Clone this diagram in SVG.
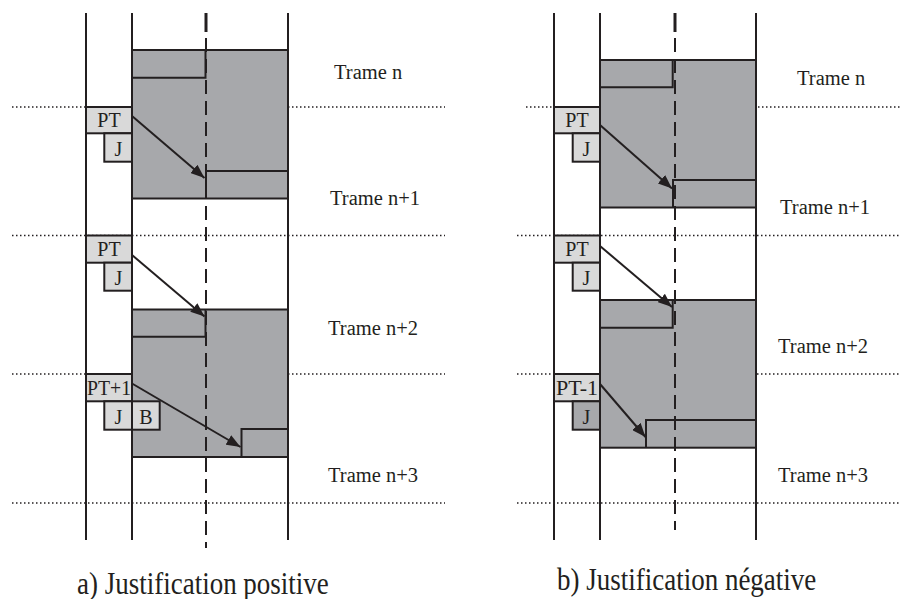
<svg xmlns="http://www.w3.org/2000/svg" width="900" height="599" viewBox="0 0 900 599">
<defs>
<marker id="ah" markerUnits="userSpaceOnUse" markerWidth="14" markerHeight="11" refX="14" refY="5.5" orient="auto">
<path d="M0,0 L14,5.5 L0,11 z" fill="#231f20"/>
</marker>
<style>
.v{stroke:#231f20;stroke-width:2;fill:none}
.dash{stroke:#231f20;stroke-width:2;stroke-dasharray:14 7;fill:none}
.dashtop{stroke:#231f20;stroke-width:3;fill:none}
.dot{stroke:#231f20;stroke-width:1.5;stroke-dasharray:1.5 2.5;fill:none}
.area{fill:#a7a8ab;stroke:#231f20;stroke-width:2}
.step{fill:none;stroke:#231f20;stroke-width:2}
.lt{fill:#d9d9d9;stroke:#231f20;stroke-width:2}
.dk{fill:#a7a8ab;stroke:#231f20;stroke-width:2}
.arr{stroke:#231f20;stroke-width:2;fill:none;marker-end:url(#ah)}
text{font-family:"Liberation Serif","Times New Roman",serif;fill:#231f20}
.lab{font-size:20.5px}
.box{font-size:20px;text-anchor:middle}
.cap{font-size:27px}
</style>
</defs>
<rect width="900" height="599" fill="#ffffff"/>

<g id="dotted-lines">
<line class="dot" x1="12" y1="107" x2="445" y2="107"/>
<line class="dot" x1="12" y1="235.5" x2="445" y2="235.5"/>
<line class="dot" x1="12" y1="374" x2="445" y2="374"/>
<line class="dot" x1="12" y1="503" x2="445" y2="503"/>
<line class="dot" x1="526" y1="107" x2="900" y2="107"/>
<line class="dot" x1="517" y1="235.5" x2="900" y2="235.5"/>
<line class="dot" x1="517" y1="374" x2="900" y2="374"/>
<line class="dot" x1="517" y1="503" x2="900" y2="503"/>
</g>

<g id="frames-a">
<g id="a-frame1">
<rect class="area" x="132" y="50" width="156" height="148.5"/>
<path class="step" d="M132,77.7 H205.5 V50"/>
<path class="step" d="M206,198.5 V171 H288"/>
</g>
<g id="a-frame2">
<rect class="area" x="132" y="309.5" width="156" height="147.5"/>
<path class="step" d="M132,336.7 H205.5 V309.5"/>
<path class="step" d="M241.5,457 V429 H288"/>
</g>
</g>

<g id="frames-b">
<g id="b-frame1">
<rect class="area" x="600" y="60" width="156" height="147.5"/>
<path class="step" d="M600,87.3 H672.7 V60"/>
<path class="step" d="M673,207.5 V180 H756"/>
</g>
<g id="b-frame2">
<rect class="area" x="600" y="300" width="156" height="147.7"/>
<path class="step" d="M600,327.7 H672.7 V300"/>
<path class="step" d="M646,447.7 V420 H756"/>
</g>
</g>

<g id="columns">
<line class="v" x1="86" y1="13" x2="86" y2="540"/>
<line class="v" x1="132" y1="13" x2="132" y2="540"/>
<line class="v" x1="288" y1="13" x2="288" y2="540"/>
<line class="dashtop" x1="206" y1="13" x2="206" y2="32"/>
<line class="dash" x1="206" y1="38" x2="206" y2="548"/>
<line class="v" x1="554" y1="13" x2="554" y2="540"/>
<line class="v" x1="600" y1="13" x2="600" y2="540"/>
<line class="v" x1="756" y1="13" x2="756" y2="540"/>
<line class="dashtop" x1="675" y1="13" x2="675" y2="32"/>
<line class="dash" x1="675" y1="38" x2="675" y2="530"/>
</g>

<g id="a-pt1"><rect class="lt" x="86" y="107" width="46" height="26.3"/><text class="box" x="109" y="127">PT</text></g>
<g id="a-j1"><rect class="lt" x="104.3" y="133.3" width="27.7" height="28.4"/><text class="box" x="118.5" y="156">J</text></g>
<g id="a-pt2"><rect class="lt" x="86" y="235.5" width="46" height="27.2"/><text class="box" x="109" y="256">PT</text></g>
<g id="a-j2"><rect class="lt" x="104.3" y="262.7" width="27.7" height="28"/><text class="box" x="118.5" y="285">J</text></g>
<g id="a-pt3"><rect class="lt" x="86" y="374" width="46" height="27.3"/><text class="box" x="109" y="395" textLength="44" lengthAdjust="spacingAndGlyphs">PT+1</text></g>
<g id="a-j3"><rect class="lt" x="104.3" y="401.3" width="27.7" height="28.4"/><text class="box" x="118.5" y="424">J</text></g>
<g id="a-b3"><rect class="lt" x="132" y="401.3" width="27.7" height="28.4"/><text class="box" x="146" y="424">B</text></g>

<g id="b-pt1"><rect class="lt" x="554" y="107" width="46" height="26.3"/><text class="box" x="577" y="127">PT</text></g>
<g id="b-j1"><rect class="lt" x="572.7" y="133.3" width="27.3" height="28.4"/><text class="box" x="586.5" y="156">J</text></g>
<g id="b-pt2"><rect class="lt" x="554" y="235.5" width="46" height="27.2"/><text class="box" x="577" y="256">PT</text></g>
<g id="b-j2"><rect class="lt" x="572.7" y="262.7" width="27.3" height="28"/><text class="box" x="586.5" y="285">J</text></g>
<g id="b-pt3"><rect class="lt" x="554" y="374" width="46" height="27.3"/><text class="box" x="577" y="395" textLength="42" lengthAdjust="spacingAndGlyphs">PT-1</text></g>
<g id="b-j3"><rect class="dk" x="572.7" y="401.3" width="27.3" height="28.4"/><text class="box" x="586.5" y="424">J</text></g>

<g id="connectors">
<line class="arr" x1="132" y1="116" x2="204.5" y2="178"/>
<line class="arr" x1="132" y1="255" x2="204.5" y2="316.5"/>
<line class="arr" x1="132" y1="383.5" x2="240.5" y2="447"/>
<line class="arr" x1="600" y1="125" x2="672" y2="188.5"/>
<line class="arr" x1="600" y1="246" x2="672" y2="307"/>
<line class="arr" x1="600" y1="384" x2="645.5" y2="437"/>
</g>

<g id="labels">
<text class="lab" x="334" y="79">Trame n</text>
<text class="lab" x="330" y="205">Trame n+1</text>
<text class="lab" x="328" y="335">Trame n+2</text>
<text class="lab" x="328" y="482">Trame n+3</text>
<text class="lab" x="797" y="85">Trame n</text>
<text class="lab" x="780" y="214">Trame n+1</text>
<text class="lab" x="778" y="353">Trame n+2</text>
<text class="lab" x="778" y="482">Trame n+3</text>
<text class="cap" transform="translate(77,594) scale(1,1.18)" x="0" y="0">a) Justification positive</text>
<text class="cap" transform="translate(557,590) scale(1,1.18)" x="0" y="0">b) Justification négative</text>
</g>
</svg>
